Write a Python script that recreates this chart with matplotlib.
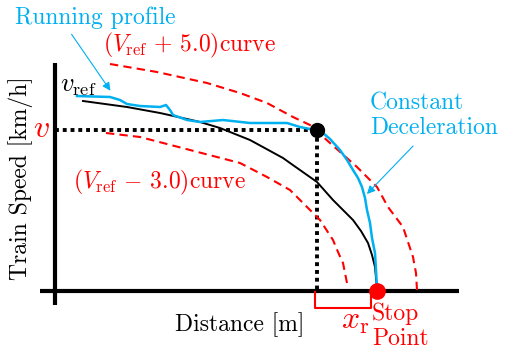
import matplotlib
matplotlib.use("Agg")
import matplotlib.pyplot as plt

plt.rcParams['font.family'] = ['cmr10', 'DejaVu Serif']
plt.rcParams['mathtext.fontset'] = 'cm'
plt.rcParams['axes.unicode_minus'] = False

BLUE = '#00B0F0'
RED = '#FF0000'

# schematic data: distance (x) and speed (y) in drawing units, origin at axes cross
vref_x = [28, 72, 105, 132, 145, 165, 195, 228, 235, 262, 278, 288, 298, 306, 313, 317,
          320, 321, 322, 322]
vref_y = [190, 184, 178, 172, 169, 163, 151, 133, 128, 109, 91, 81, 71, 60, 48, 36,
          24, 13, 3, 0]

run_x = [22, 55, 65, 72, 85, 105, 111, 115, 118, 132, 145, 168, 195, 232, 245, 255, 262,
         268, 275, 285, 292, 298, 303, 307, 310, 312, 315, 317, 320, 321, 322, 322]
run_y = [195, 194, 191, 187, 185, 184, 186, 181, 176, 171, 169, 171, 168, 168, 164, 162, 161,
         158, 152, 141, 131, 121, 113, 104, 93, 81, 68, 53, 38, 21, 3, 0]

upper_x = [55, 102, 152, 185, 212, 238, 255, 275, 302, 322, 333, 348, 353, 358, 361, 362]
upper_y = [227, 219, 208, 198, 188, 174, 166, 148, 124, 104, 84, 64, 49, 34, 18, 1]

lower_x = [51, 85, 135, 185, 212, 235, 252, 265, 278, 283, 288, 292]
lower_y = [158, 154, 141, 128, 114, 101, 84, 71, 51, 39, 28, 8]

v_point = (262, 161)
stop_point = (322, 0)

fig = plt.figure(figsize=(5.06, 3.55), dpi=100)
ax = fig.add_axes([0, 0, 1, 1])
ax.set_xlim(-55, 451)
ax.set_ylim(-64, 291)
ax.axis('off')

# axes lines
ax.plot([-15, 404], [0, 0], color='black', lw=3, solid_capstyle='butt', zorder=2)
ax.plot([0, 0], [-14, 228], color='black', lw=3, solid_capstyle='butt', zorder=2)

# dotted lines to v point
ax.plot([0, v_point[0]], [v_point[1], v_point[1]], color='black', lw=2.8,
        linestyle=(0, (1, 1)), dash_capstyle='butt', zorder=3)
ax.plot([v_point[0], v_point[0]], [v_point[1], 0], color='black', lw=2.8,
        linestyle=(0, (1, 1)), dash_capstyle='butt', zorder=3)

# curves
ax.plot(upper_x, upper_y, color=RED, lw=1.5, linestyle=(0, (4, 2.5)), zorder=3)
ax.plot(lower_x, lower_y, color=RED, lw=1.5, linestyle=(0, (4, 2.5)), zorder=3)
ax.plot(vref_x, vref_y, color='black', lw=1.4, zorder=4)
ax.plot(run_x, run_y, color=BLUE, lw=1.8, zorder=5)

# points
ax.plot([v_point[0]], [v_point[1]], 'o', color='black', ms=10, zorder=6)
ax.plot([stop_point[0]], [stop_point[1]], 'o', color=RED, ms=11, zorder=6)

# x_r bracket
ax.plot([260, 260, 316, 316], [-1, -17, -17, -1], color=RED, lw=1.5, zorder=3)

# texts
FS = 17
ax.text(-40, 273, 'Running profile', color=BLUE, fontsize=FS, ha='left', va='center')
ax.annotate('', xy=(57, 198), xytext=(15, 259),
            arrowprops=dict(arrowstyle='-|>', color=BLUE, lw=0.8, mutation_scale=12))
ax.text(48, 246, r'$(V_{\rm ref}\,+\,5.0)$curve', color=RED, fontsize=FS, ha='left', va='center')
ax.text(5, 205, r'$v_{\rm ref}$', color='black', fontsize=19, ha='left', va='center')
ax.text(-14, 162, r'$v$', color=RED, fontsize=23, ha='center', va='center')
ax.text(18, 109, r'$(V_{\rm ref}\,-\,3.0)$curve', color=RED, fontsize=FS, ha='left', va='center')
ax.text(315, 175, 'Constant\nDeceleration', color=BLUE, fontsize=FS, ha='left', va='center',
        linespacing=1.15)
ax.annotate('', xy=(310, 95), xytext=(360, 147),
            arrowprops=dict(arrowstyle='-|>', color=BLUE, lw=0.8, mutation_scale=12))
ax.text(-34, 113, 'Train Speed [km/h]', color='black', fontsize=FS, rotation=90,
        ha='center', va='center')
ax.text(185, -34, 'Distance [m]', color='black', fontsize=FS, ha='center', va='center')
ax.text(300, -31, r'$x_{\rm r}$', color=RED, fontsize=23, ha='center', va='center')
ax.text(317, -35, 'Stop\nPoint', color=RED, fontsize=FS, ha='left', va='center',
        linespacing=1.15)

fig.savefig('out.png', dpi=100)
